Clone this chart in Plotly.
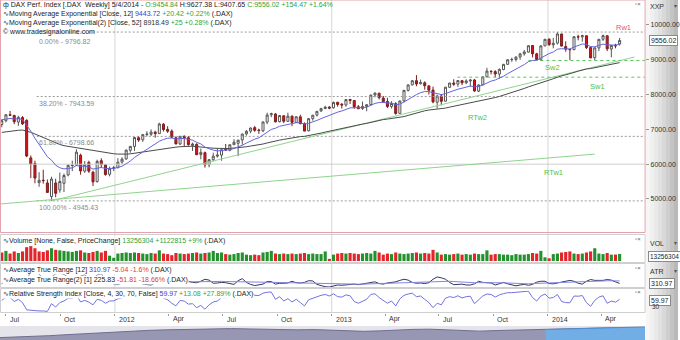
import plotly.graph_objects as go
import pandas as pd

# ---------------- data ----------------
opens = [7140, 7250, 7420, 7400, 7210, 7340, 7260, 6180, 6020, 5470, 5540, 5460, 5070, 5460, 5260, 5450, 5690, 5960, 5980, 6260, 5800, 6050, 5770, 5500, 6100, 5980, 5710, 5880,
         5900, 6060, 6150, 6400, 6510, 6760, 6700, 6850, 6860, 6920, 6880, 7150, 7000, 6950, 6760, 6580, 6800, 6760, 6540, 6570, 6280, 6330, 5980, 6130, 6230, 6260, 6420, 6400, 6560, 6600, 6700, 6870, 6950, 7050, 6980, 6960, 7210, 7420, 7440, 7220, 7390, 7230, 7380, 7200, 7360, 7160, 6960, 7310, 7410, 7530, 7600, 7640,
         7620, 7780, 7720, 7700, 7860, 7830, 7650, 7600, 7660, 7710, 7990, 8040, 7900, 7800, 7660, 7740, 7460, 7820, 8120, 8280, 8400, 8310, 8340, 8250, 8130, 7780, 7960, 7810, 8210, 8330, 8300, 8400, 8340, 8390, 8420, 8100, 8280, 8510, 8670, 8660, 8590, 8720, 8870, 9000, 9010, 9080, 9170, 9220, 9410, 9170, 9000, 9400, 9590,
         9430, 9480, 9740, 9380, 9300, 9290, 9660, 9660, 9690, 9350, 9060, 9340, 9590, 9690, 9310, 9410, 9454.84]
highs = [7290, 7440, 7530, 7420, 7390, 7380, 7290, 6250, 6100, 5770, 5840, 5560, 5640, 5580, 5760, 5730, 6000, 6100, 6430, 6300, 6090, 6100, 5810, 6130, 6170, 6000, 5930, 5950,
         6170, 6200, 6420, 6520, 6770, 6810, 6870, 6950, 7000, 6960, 7190, 7180, 7090, 7000, 6800, 6810, 6830, 6810, 6620, 6600, 6450, 6360, 6150, 6330, 6450, 6420, 6580, 6560, 6720, 6700, 6880, 6980, 7050, 7100, 7020, 7220, 7480, 7480, 7470, 7410, 7400, 7480, 7400, 7370, 7420, 7200, 7320, 7420, 7530, 7620, 7680, 7670,
         7800, 7790, 7760, 7870, 7870, 7840, 7700, 7800, 7720, 8000, 8060, 8050, 7960, 7910, 7810, 7780, 7830, 8130, 8290, 8420, 8560, 8430, 8380, 8270, 8230, 8000, 8010, 8220, 8340, 8440, 8410, 8420, 8440, 8450, 8450, 8300, 8520, 8770, 8700, 8700, 8750, 8880, 9010, 9060, 9100, 9200, 9280, 9410, 9420, 9200, 9410, 9600, 9620,
         9630, 9796.82, 9750, 9530, 9310, 9670, 9720, 9720, 9700, 9380, 9360, 9600, 9720, 9700, 9420, 9460, 9627.38]
lows = [7060, 7200, 7390, 7150, 7100, 7130, 6200, 5600, 5450, 5350, 5440, 5170, 4945.43, 5050, 5180, 5200, 5650, 5800, 5950, 5700, 5750, 5750, 5370, 5470, 5900, 5670, 5650, 5800,
        5880, 6010, 6130, 6330, 6380, 6640, 6640, 6800, 6810, 6760, 6870, 6940, 6900, 6750, 6570, 6550, 6510, 6530, 6380, 6270, 6140, 5900, 5910, 6080, 6190, 6100, 6390, 6370, 6550, 6230, 6560, 6820, 6890, 6930, 6870, 6920, 7150, 7350, 7200, 7200, 7180, 7220, 7090, 7190, 7150, 6950, 6940, 7250, 7370, 7500, 7580, 7580,
        7600, 7650, 7600, 7650, 7730, 7590, 7590, 7560, 7520, 7690, 7920, 7860, 7770, 7610, 7600, 7420, 7450, 7780, 8090, 8260, 8240, 8290, 8140, 8000, 7750, 7600, 7690, 7800, 8190, 8250, 8220, 8270, 8300, 8230, 8080, 8070, 8270, 8500, 8580, 8500, 8460, 8700, 8850, 8940, 8950, 9000, 9120, 9210, 9070, 8990, 8980, 9390, 9400,
        9330, 9440, 9390, 9230, 8990, 9280, 9560, 9520, 9310, 9040, 8990, 9250, 9540, 9250, 9070, 9330, 9407.65]
closes = [7250, 7419, 7405, 7220, 7344, 7158, 6236, 5997, 5602, 5537, 5528, 5189, 5574, 5164, 5502, 5675, 5967, 5971, 6346, 5807, 5986, 5800, 5492, 6080, 5986, 5702, 5878, 5898,
          6057, 6143, 6404, 6512, 6766, 6692, 6849, 6865, 6921, 6880, 7157, 6995, 6947, 6775, 6583, 6801, 6762, 6561, 6579, 6271, 6339, 5978, 6130, 6229, 6263, 6416, 6410, 6558, 6630, 6690, 6865, 6945, 7040, 6972, 6970, 7214, 7412, 7451, 7216, 7398, 7233, 7381, 7203, 7363, 7163, 6950, 7309, 7405, 7518, 7596, 7636, 7612,
          7776, 7715, 7702, 7857, 7833, 7652, 7593, 7661, 7708, 7986, 8043, 7913, 7795, 7658, 7744, 7459, 7815, 8122, 8278, 8399, 8305, 8349, 8254, 8128, 7789, 7959, 7806, 8212, 8331, 8300, 8403, 8338, 8392, 8416, 8103, 8275, 8510, 8675, 8661, 8592, 8725, 8869, 9001, 9010, 9078, 9168, 9225, 9405, 9172, 9006, 9400, 9589, 9435,
          9473, 9743, 9393, 9306, 9290, 9663, 9657, 9692, 9351, 9056, 9343, 9588, 9695, 9315, 9409, 9401, 9556.02]
ema12 = [7275, 7297, 7314, 7300, 7307, 7284, 7123, 6950, 6743, 6557, 6399, 6213, 6115, 5969, 5897, 5863, 5879, 5893, 5963, 5939, 5946, 5924, 5857, 5891, 5906, 5875, 5875, 5879,
         5906, 5942, 6013, 6090, 6194, 6271, 6360, 6438, 6512, 6569, 6659, 6711, 6747, 6751, 6725, 6737, 6741, 6713, 6692, 6627, 6583, 6490, 6435, 6403, 6381, 6386, 6390, 6416, 6449, 6486, 6544, 6606, 6673, 6719, 6758, 6828, 6918, 7000, 7033, 7089, 7111, 7153, 7161, 7192, 7188, 7151, 7175, 7210, 7257, 7309, 7359, 7398,
         7456, 7496, 7528, 7579, 7618, 7623, 7618, 7625, 7638, 7692, 7746, 7772, 7776, 7758, 7756, 7710, 7726, 7787, 7863, 7946, 8001, 8055, 8086, 8092, 8045, 8032, 7997, 8030, 8076, 8110, 8155, 8183, 8215, 8246, 8224, 8232, 8275, 8337, 8387, 8419, 8466, 8528, 8601, 8664, 8728, 8796, 8862, 8946, 8981, 8985, 9049, 9132, 9179,
         9224, 9304, 9318, 9316, 9312, 9366, 9411, 9454, 9438, 9379, 9373, 9406, 9450, 9429, 9426, 9422, 9443.72]
ema52 = [6913, 6932, 6950, 6960, 6974, 6981, 6953, 6917, 6867, 6817, 6768, 6708, 6665, 6608, 6566, 6532, 6511, 6491, 6486, 6460, 6442, 6418, 6383, 6372, 6357, 6332, 6315, 6299,
         6290, 6284, 6289, 6297, 6315, 6329, 6349, 6368, 6389, 6408, 6436, 6457, 6475, 6486, 6490, 6502, 6512, 6514, 6516, 6507, 6501, 6481, 6468, 6459, 6452, 6451, 6449, 6453, 6460, 6469, 6484, 6501, 6521, 6538, 6554, 6579, 6610, 6642, 6664, 6692, 6712, 6737, 6755, 6778, 6793, 6799, 6818, 6840, 6866, 6894, 6922, 6948,
         6979, 7007, 7033, 7064, 7093, 7114, 7132, 7152, 7173, 7204, 7236, 7262, 7282, 7296, 7313, 7319, 7338, 7368, 7402, 7440, 7473, 7506, 7534, 7556, 7565, 7580, 7589, 7612, 7639, 7664, 7692, 7716, 7742, 7767, 7780, 7799, 7826, 7858, 7888, 7915, 7946, 7981, 8019, 8056, 8095, 8135, 8176, 8222, 8258, 8286, 8328, 8376, 8416,
         8456, 8505, 8539, 8568, 8595, 8635, 8674, 8712, 8736, 8748, 8770, 8801, 8835, 8853, 8874, 8894, 8918.49]
volume_m = [16, 19, 14, 18, 15, 18, 26, 28, 24, 18, 17, 20, 24, 21, 20, 19, 18, 17, 19, 20, 16, 15, 17, 19, 16, 19, 10, 6,
            14, 15, 16, 15, 16, 15, 14, 13, 15, 14, 20, 14, 13, 11, 15, 14, 13, 14, 15, 16, 14, 15, 16, 19, 15, 16, 13, 12, 13, 15, 16, 12, 11, 12, 11, 16, 17, 19, 14, 13, 14, 13, 14, 13, 14, 15, 13, 14, 13, 13, 18, 4,
            12, 14, 15, 14, 15, 14, 13, 14, 15, 14, 19, 16, 12, 14, 13, 16, 14, 13, 14, 15, 16, 14, 15, 14, 21, 16, 12, 13, 12, 13, 14, 12, 13, 12, 14, 13, 13, 20, 12, 13, 13, 12, 12, 11, 13, 12, 12, 13, 15, 14, 19, 7, 5,
            13, 14, 16, 17, 18, 14, 13, 14, 16, 18, 24, 14, 13, 15, 12, 12.133489, 13.256304]
atr12 = [230, 235, 232, 236, 240, 238, 300, 330, 360, 385, 400, 410, 430, 440, 450, 455, 450, 440,
         445, 455, 450, 445, 440, 445, 430, 420, 405, 385, 370, 350, 330, 320, 315, 305, 295, 285,
         280, 275, 280, 275, 270, 268, 272, 275, 278, 280, 282, 290, 295, 300, 305, 300, 298, 295,
         290, 285, 290, 295, 290, 280, 270, 260, 250, 255, 265, 262, 258, 255, 250, 248, 245, 240,
         238, 240, 245, 240, 232, 225, 215, 205, 200, 198, 195, 198, 196, 200, 198, 200, 205, 215,
         218, 220, 225, 230, 235, 245, 255, 260, 258, 255, 260, 258, 262, 270, 290, 300, 305, 310,
         300, 290, 280, 268, 255, 245, 250, 252, 255, 258, 250, 245, 248, 245, 240, 232, 225, 218,
         212, 210, 220, 225, 232, 235, 230, 228, 235, 245, 255, 265, 270, 272, 268, 280, 290, 300,
         305, 310, 318, 320, 316, 310.97]
atr2 = [220, 250, 210, 260, 250, 230, 260, 720, 690, 560, 400, 380, 450, 560, 580, 540, 450, 330,
        380, 480, 520, 400, 390, 520, 560, 350, 290, 200, 180, 240, 250, 260, 320, 320, 200, 190,
        170, 240, 300, 280, 220, 240, 230, 240, 280, 300, 260, 250, 300, 370, 340, 230, 240, 260,
        250, 210, 190, 320, 390, 260, 190, 150, 170, 200, 290, 290, 200, 230, 230, 240, 300, 250,
        240, 260, 320, 310, 190, 140, 110, 100, 130, 170, 160, 180, 190, 200, 180, 200, 230, 250,
        280, 220, 200, 240, 260, 280, 330, 370, 340, 260, 230, 240, 220, 250, 370, 450, 420, 370,
        260, 180, 190, 200, 170, 170, 210, 300, 260, 260, 240, 170, 210, 260, 210, 170, 140, 170,
        190, 160, 190, 270, 300, 300, 220, 210, 240, 290, 320, 330, 300, 230, 200, 300, 360, 330,
        330, 330, 360, 340, 277.64, 225.83]
rsi4 = [55, 70, 68, 50, 60, 45, 12, 10, 7, 7, 7, 5, 40, 25, 45, 52, 65, 65, 80, 48, 55, 47, 35, 60, 55, 42, 52, 53,
        62, 67, 78, 82, 88, 75, 82, 83, 86, 75, 88, 65, 58, 42, 30, 55, 52, 38, 40, 22, 32, 15, 35, 48, 52, 68, 67, 78, 82, 85, 90, 92, 94, 78, 77, 88, 92, 93, 60, 72, 52, 63, 48, 60, 45, 30, 58, 65, 72, 78, 82, 75,
        85, 72, 70, 80, 76, 50, 42, 52, 60, 82, 85, 68, 55, 42, 52, 30, 62, 78, 84, 88, 72, 75, 60, 45, 22, 42, 35, 65, 72, 68, 76, 66, 72, 74, 40, 58, 75, 84, 82, 70, 80, 86, 90, 90, 92, 94, 95, 97, 68, 52, 75, 84, 65,
        68, 82, 50, 45, 44, 75, 74, 77, 45, 28, 55, 70, 76, 42, 52, 46.89, 59.97]
nav_level = [2.5, 3, 3.5, 4.5, 5.5, 6.5, 7.5, 8.5, 9.5, 10, 10.5, 11, 11.5, 12, 11.8, 11.5, 11, 10.8, 10.5, 10.8,
             10.2, 9.5, 9, 9.5, 10.5, 11, 11.2, 10.5, 9.8, 9.2, 9.8, 10.2, 10.5, 10.8, 11.2, 11.8, 12.3, 12.8, 13.2, 13.6]
nav_highlight_start = 33

fib_levels = [9796.82, 7943.59, 6798.66, 4945.43]
fib_labels = ["0.00% - 9796.82", "38.20% - 7943.59", "61.80% - 6798.66", "100.00% - 4945.43"]
fib_start = "2011-08-22"
hline_6000 = 6000
rtw1_dates = ["2011-06-21", "2014-03-21"]
rtw1_prices = [4856, 6290]
rtw2_dates = ["2011-09-16", "2014-05-27"]
rtw2_prices = [4945, 9080]
sw2_dates = ["2013-11-29", "2014-06-14"]
sw2_price = 8980
sw1_dates = ["2013-08-01", "2014-06-14"]
sw1_price = 8500
price_ticks = [5000, 6000, 7000, 8000, 9000, 10000]
quarter_ticks = ["2011-07-01", "2011-10-01", "2012-01-01", "2012-04-01", "2012-07-01", "2012-10-01",
                 "2013-01-01", "2013-04-01", "2013-07-01", "2013-10-01", "2014-01-01", "2014-04-01"]
quarter_labels = ["Jul", "Oct", "2012", "Apr", "Jul", "Oct", "2013", "Apr", "Jul", "Oct", "2014", "Apr"]
year_lines = ["2012-01-01", "2013-01-01", "2014-01-01"]
x_range = ["2011-06-21", "2014-06-14"]

dates = pd.date_range("2011-06-24", periods=len(closes), freq="7D")
volume = [v * 1e6 for v in volume_m]
vol_colors = ["#e3242b" if i == 0 or closes[i] < closes[i - 1] else "#23922d" for i in range(len(closes))]

FONT = "Liberation Sans, Arial, sans-serif"
GREEN = "#2fa43a"
RED = "#e0393e"
BLUE = "#3b3bd0"

fig = go.Figure()

# gray reference lines
for lvl in fib_levels:
    fig.add_trace(go.Scatter(x=[fib_start, x_range[1]], y=[lvl, lvl], mode="lines",
                             line=dict(color="#9a9a9a", width=1, dash="2px,2px"), hoverinfo="skip", showlegend=False))
fig.add_trace(go.Scatter(x=x_range, y=[hline_6000, hline_6000], mode="lines",
                         line=dict(color="#cfcfcf", width=1), hoverinfo="skip", showlegend=False))
# trend lines
for dts, prs in [(rtw1_dates, rtw1_prices), (rtw2_dates, rtw2_prices)]:
    fig.add_trace(go.Scatter(x=dts, y=prs, mode="lines", line=dict(color="#8fd48f", width=1),
                             hoverinfo="skip", showlegend=False))
for dts, pr in [(sw2_dates, sw2_price), (sw1_dates, sw1_price)]:
    fig.add_trace(go.Scatter(x=dts, y=[pr, pr], mode="lines", line=dict(color="#5cc45c", width=1, dash="3px,3px"),
                             hoverinfo="skip", showlegend=False))

# EMAs
fig.add_trace(go.Scatter(x=dates, y=ema52, mode="lines", line=dict(color="#4a4a4a", width=1),
                         hoverinfo="skip", showlegend=False))
fig.add_trace(go.Scatter(x=dates, y=ema12, mode="lines", line=dict(color="#6464dc", width=1),
                         hoverinfo="skip", showlegend=False))

# candles
fig.add_trace(go.Candlestick(x=dates, open=opens, high=highs, low=lows, close=closes,
                             increasing=dict(line=dict(color="#555555", width=1), fillcolor="#ffffff"),
                             decreasing=dict(line=dict(color="#7c1f1f", width=1), fillcolor="#d9141c"),
                             whiskerwidth=0, hoverinfo="skip", showlegend=False))

# volume
fig.add_trace(go.Bar(x=dates, y=volume, marker=dict(color=vol_colors, line=dict(width=0)),
                     yaxis="y2", hoverinfo="skip", showlegend=False))
# ATR
fig.add_trace(go.Scatter(x=dates, y=atr2, mode="lines", line=dict(color="#34346a", width=1),
                         yaxis="y3", hoverinfo="skip", showlegend=False))
fig.add_trace(go.Scatter(x=dates, y=atr12, mode="lines", line=dict(color="#8585e2", width=1),
                         yaxis="y3", hoverinfo="skip", showlegend=False))
# RSI
fig.add_trace(go.Scatter(x=dates, y=rsi4, mode="lines", line=dict(color="#7272e0", width=1),
                         yaxis="y4", hoverinfo="skip", showlegend=False))
# navigator
nav_x = list(range(len(nav_level)))
fig.add_trace(go.Scatter(x=nav_x, y=nav_level, mode="lines", fill="tozeroy", fillcolor="#9797b4",
                         line=dict(color="#6e6e92", width=1), xaxis="x2", yaxis="y5",
                         hoverinfo="skip", showlegend=False))
fig.add_trace(go.Scatter(x=nav_x[nav_highlight_start:], y=nav_level[nav_highlight_start:], mode="lines",
                         fill="tozeroy", fillcolor="#72aee6", line=dict(color="#4f8fd0", width=1),
                         xaxis="x2", yaxis="y5", hoverinfo="skip", showlegend=False))

W, H = 680, 340
XD = 647 / W


def py(px):
    return 1 - px / H


shapes = []
# right gradient strip
greys = ["#f6f6f6", "#f0f0f0", "#e9e9e9", "#e1e1e1", "#d8d8d8", "#cecece", "#c4c4c4", "#b9b9b9"]
for i, g in enumerate(greys):
    shapes.append(dict(type="rect", xref="paper", yref="paper", x0=(648 + 4 * i) / W, x1=(652 + 4 * i) / W,
                       y0=0, y1=1, fillcolor=g, line=dict(width=0), layer="below"))
# navigator background
shapes.append(dict(type="rect", xref="paper", yref="paper", x0=0, x1=XD, y0=0, y1=py(326),
                   fillcolor="#e4e4ea", line=dict(width=0), layer="below"))
# year grid lines
for yl in year_lines:
    shapes.append(dict(type="line", xref="x", yref="paper", x0=yl, x1=yl, y0=py(313), y1=1,
                       line=dict(color="#d6d6d6", width=1), layer="below"))
# panel borders
shapes.append(dict(type="rect", xref="paper", yref="paper", x0=0.5 / W, x1=XD, y0=py(232.5), y1=1,
                   line=dict(color="#e4a3aa", width=1)))
for top, bot in [(234.5, 262.5), (263.5, 287.5), (288.5, 312.5)]:
    shapes.append(dict(type="rect", xref="paper", yref="paper", x0=0.5 / W, x1=XD, y0=py(bot), y1=py(top),
                       line=dict(color="#cfcfcf", width=1)))

ann = []


def txt(x, y, text, size=7, color="#222", xanchor="left", bg=None, **kw):
    d = dict(xref="paper", yref="paper", x=x / W, y=py(y), text=text, showarrow=False, xanchor=xanchor,
             yanchor="middle", font=dict(family=FONT, size=size, color=color), borderpad=0)
    if bg:
        d["bgcolor"] = bg
    d.update(kw)
    ann.append(d)


def col(c, s):
    return f'<span style="color:{c}">{s}</span>'


txt(2, 5, "ф DAX Perf. Index [.DAX  Weekly] 5/4/2014 - " + col(GREEN, "O:9454.84") +
    " H:9627.38 L:9407.65 " + col(GREEN, "C:9556.02 +154.47 +1.64%"))
txt(2, 14.5, "∿Moving Average Exponential [Close, 12] " + col(BLUE, "9443.72") + " " + col(GREEN, "+20.42 +0.22%") + " (.DAX)")
txt(2, 23.5, "∿Moving Average Exponential(2) [Close, 52] " + col("#333", "8918.49") + " " + col(GREEN, "+25 +0.28%") + " (.DAX)")
txt(2, 32, "© www.tradesignalonline.com")

txt(2, 241, "∿Volume [None, False, PriceChange] " + col(GREEN, "13256304 +1122815 +9%") + " (.DAX)", bg="#ffffff")
txt(2, 270, "∿Average True Range [12] " + col(BLUE, "310.97") + " " + col(RED, "-5.04 -1.6%") + " (.DAX)", bg="#ffffff")
txt(2, 280, "∿Average True Range(2) [1] " + col("#222", "225.83") + " " + col(RED, "-51.81 -18.66%") + " (.DAX)", bg="#ffffff")
txt(2, 294, "∿Relative Strength Index [Close, 4, 30, 70, False] " + col(BLUE, "59.97") + " " +
    col(GREEN, "+13.08 +27.89%") + " (.DAX)", bg="#ffffff")

# fib labels
for lvl, lab in zip(fib_levels, fib_labels):
    ys = -4 if lvl == fib_levels[0] else -1
    ann.append(dict(xref="x", yref="y", x=fib_start, y=lvl, text=lab, showarrow=False, xanchor="left",
                    yanchor="top", yshift=ys, font=dict(family=FONT, size=7, color="#8a8a8a")))
# drawing labels
for xd, yv, lab, c in [("2014-04-22", 9935, "Rw1", "#e05a5a"), ("2013-12-24", 8770, "Sw2", "#4cbf4c"),
                       ("2014-03-10", 8220, "Sw1", "#4cbf4c"), ("2013-08-15", 7330, "RTw2", "#4cbf4c"),
                       ("2013-12-22", 5775, "RTw1", "#4cbf4c")]:
    ann.append(dict(xref="x", yref="y", x=xd, y=yv, text=lab, showarrow=False, xanchor="left",
                    yanchor="middle", font=dict(family=FONT, size=7.5, color=c)))
# x labels
for d, lab in zip(quarter_ticks, quarter_labels):
    ann.append(dict(xref="x", yref="paper", x=d, y=py(319), text=lab, showarrow=False, xanchor="left",
                    yanchor="middle", xshift=2, font=dict(family=FONT, size=7, color="#333")))
# right side labels
txt(651, 6, "XXP", size=7, color="#333")
txt(675, 6, "▾", size=6, color="#555")
txt(636, 4, "▫×", size=6, color="#666")
txt(636, 239, "▫×", size=6, color="#666")
txt(636, 268, "▫×", size=6, color="#666")
txt(636, 292, "▫×", size=6, color="#666")
ann.append(dict(xref="paper", yref="y", x=651 / W, y=closes[-1], text="9556.02", showarrow=False,
                xanchor="left", yanchor="middle", font=dict(family=FONT, size=7, color="#222"),
                bgcolor="#ffffff", bordercolor="#8a8a8a", borderwidth=1, borderpad=1))
txt(651, 243, "VOL", size=7, color="#333")
txt(675, 243, "▾", size=6, color="#555")
txt(650, 256, "13256304", size=6.5, color="#222", bg="#ffffff", bordercolor="#8a8a8a", borderwidth=1, borderpad=1)
txt(651, 271, "ATR", size=7, color="#333")
txt(675, 271, "▾", size=6, color="#555")
txt(651, 283, "310.97", size=7, color="#222", bg="#ffffff", bordercolor="#8a8a8a", borderwidth=1, borderpad=1)
txt(651, 300, "59.97", size=7, color="#222", bg="#ffffff", bordercolor="#8a8a8a", borderwidth=1, borderpad=1)
txt(653, 306.5, "30", size=6.5, color="#333")

fig.update_layout(
    width=W, height=H, margin=dict(l=0, r=0, t=0, b=0),
    paper_bgcolor="#ffffff", plot_bgcolor="#ffffff",
    font=dict(family=FONT, size=7, color="#333"),
    bargap=0.25, showlegend=False,
    xaxis=dict(domain=[0, XD], range=x_range, anchor="y4", type="date", showgrid=False, zeroline=False,
               showticklabels=False, ticks="outside", ticklen=2, tickcolor="#999", tickvals=quarter_ticks,
               rangeslider=dict(visible=False), showline=False),
    yaxis=dict(domain=[py(232), 1], range=[4051, 10718], side="right", anchor="x", tickvals=price_ticks,
               tickformat=".2f", showgrid=False, zeroline=False, ticks="outside", ticklen=3, tickcolor="#999",
               tickfont=dict(size=7, color="#333")),
    yaxis2=dict(domain=[py(261), py(236)], range=[0, 47e6], anchor="x", visible=False),
    yaxis3=dict(domain=[py(287), py(264)], range=[100, 900], anchor="x", visible=False),
    yaxis4=dict(domain=[py(312.5), py(290.5)], range=[0, 100], anchor="x", visible=False),
    xaxis2=dict(domain=[0, XD], range=[0, len(nav_level) - 1], anchor="y5", visible=False),
    yaxis5=dict(domain=[0, py(326.5)], range=[0, 14], anchor="x2", visible=False),
    shapes=shapes, annotations=ann,
)

fig.write_html("out.html")
